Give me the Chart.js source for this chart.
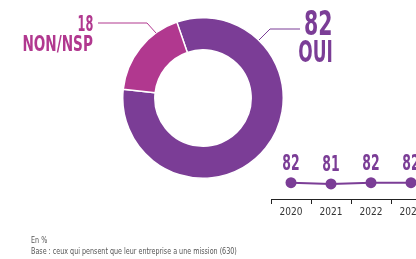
<!DOCTYPE html>
<html lang="fr">
<head>
  <meta charset="UTF-8">
  <title>Mission entreprise</title>
  <script src="https://cdn.jsdelivr.net/npm/chart.js"></script>
  <style>
    * { margin: 0; padding: 0; box-sizing: border-box; }
    body { width: 416px; height: 259px; overflow: hidden; background: #fff; position: relative;
      font-family: 'DejaVu Sans Condensed', sans-serif; }
    .abs { position: absolute; }
    .big { font-weight: bold; line-height: 1; text-align: right; transform-origin: right top; white-space: nowrap; }
    .oui { color: #7b3d96; }
    .non { color: #b1388f; }
    .note { color: #555; font-size: 9px; left: 31px; transform: scaleX(0.79); transform-origin: left top; white-space: nowrap; }
    #donut { left: 122px; top: 17px; }
    #trend { left: 260px; top: 140px; }
    svg { position: absolute; left: 0; top: 0; }
  </style>
</head>
<body>
  <canvas id="donut" class="abs" width="162" height="162"></canvas>
  <canvas id="trend" class="abs" width="190" height="80"></canvas>

  <svg width="416" height="259">
    <polyline points="98,23 147,23 156,33" fill="none" stroke="#b1388f" stroke-width="1"/>
    <polyline points="300,29 270,29 259,40" fill="none" stroke="#7b3d96" stroke-width="1"/>
  </svg>

  <div class="abs big oui" style="right:83px; top:6px; font-size:34px; transform:scaleX(0.67);">82</div>
  <div class="abs big oui" style="right:83px; top:37px; font-size:30px; transform:scaleX(0.63);">OUI</div>
  <div class="abs big non" style="right:323px; top:14px; font-size:21px; transform:scaleX(0.6);">18</div>
  <div class="abs big non" style="right:323px; top:34px; font-size:21px; transform:scaleX(0.72);">NON/NSP</div>

  <div class="abs note" style="top:235px;">En %</div>
  <div class="abs note" style="top:246px;">Base : ceux qui pensent que leur entreprise a une mission (630)</div>

  <script>
    // donut
    const answers = ['OUI', 'NON/NSP'];
    const shares = [82, 18];
    const answerColors = ['#7b3d96', '#b1388f'];

    // trend of "OUI"
    const years = ['2020', '2021', '2022', '2023'];
    const ouiByYear = [82, 81, 82, 82];

    new Chart(document.getElementById('donut'), {
      type: 'doughnut',
      data: {
        labels: answers,
        datasets: [{
          data: shares,
          backgroundColor: answerColors,
          borderColor: '#fff',
          borderWidth: 1.5
        }]
      },
      options: {
        responsive: false,
        animation: false,
        rotation: -19,
        cutout: '60%',
        plugins: { legend: { display: false }, tooltip: { enabled: false } }
      }
    });

    // value above each point, narrow like the rest of the labels
    const valueLabels = {
      id: 'valueLabels',
      afterDatasetsDraw(chart) {
        const ctx = chart.ctx;
        const meta = chart.getDatasetMeta(0);
        meta.data.forEach((pt, i) => {
          ctx.save();
          ctx.translate(pt.x, pt.y - 8);
          ctx.scale(0.66, 1);
          ctx.fillStyle = '#7b3d96';
          ctx.font = "bold 21px 'DejaVu Sans Condensed', sans-serif";
          ctx.textAlign = 'center';
          ctx.textBaseline = 'bottom';
          ctx.fillText(ouiByYear[i], 0, 0);
          ctx.restore();
        });
      }
    };

    new Chart(document.getElementById('trend'), {
      type: 'line',
      data: {
        labels: years,
        datasets: [{
          data: ouiByYear,
          borderColor: '#7b3d96',
          backgroundColor: '#7b3d96',
          borderWidth: 2,
          pointRadius: 5.5,
          pointBackgroundColor: '#7b3d96',
          pointBorderWidth: 0,
          clip: false
        }]
      },
      options: {
        responsive: false,
        animation: false,
        layout: { padding: { left: 11, right: 19, top: 0, bottom: 0 } },
        scales: {
          x: {
            offset: true,
            grid: { offset: true, drawOnChartArea: false, tickLength: 5, color: '#222', lineWidth: 1 },
            border: { color: '#222', width: 1 },
            ticks: { color: '#333', padding: 2, font: { size: 10, family: "'DejaVu Sans Condensed', sans-serif" } }
          },
          y: { display: false, min: 68, max: 114 }
        },
        plugins: { legend: { display: false }, tooltip: { enabled: false } }
      },
      plugins: [valueLabels]
    });
  </script>
</body>
</html>
